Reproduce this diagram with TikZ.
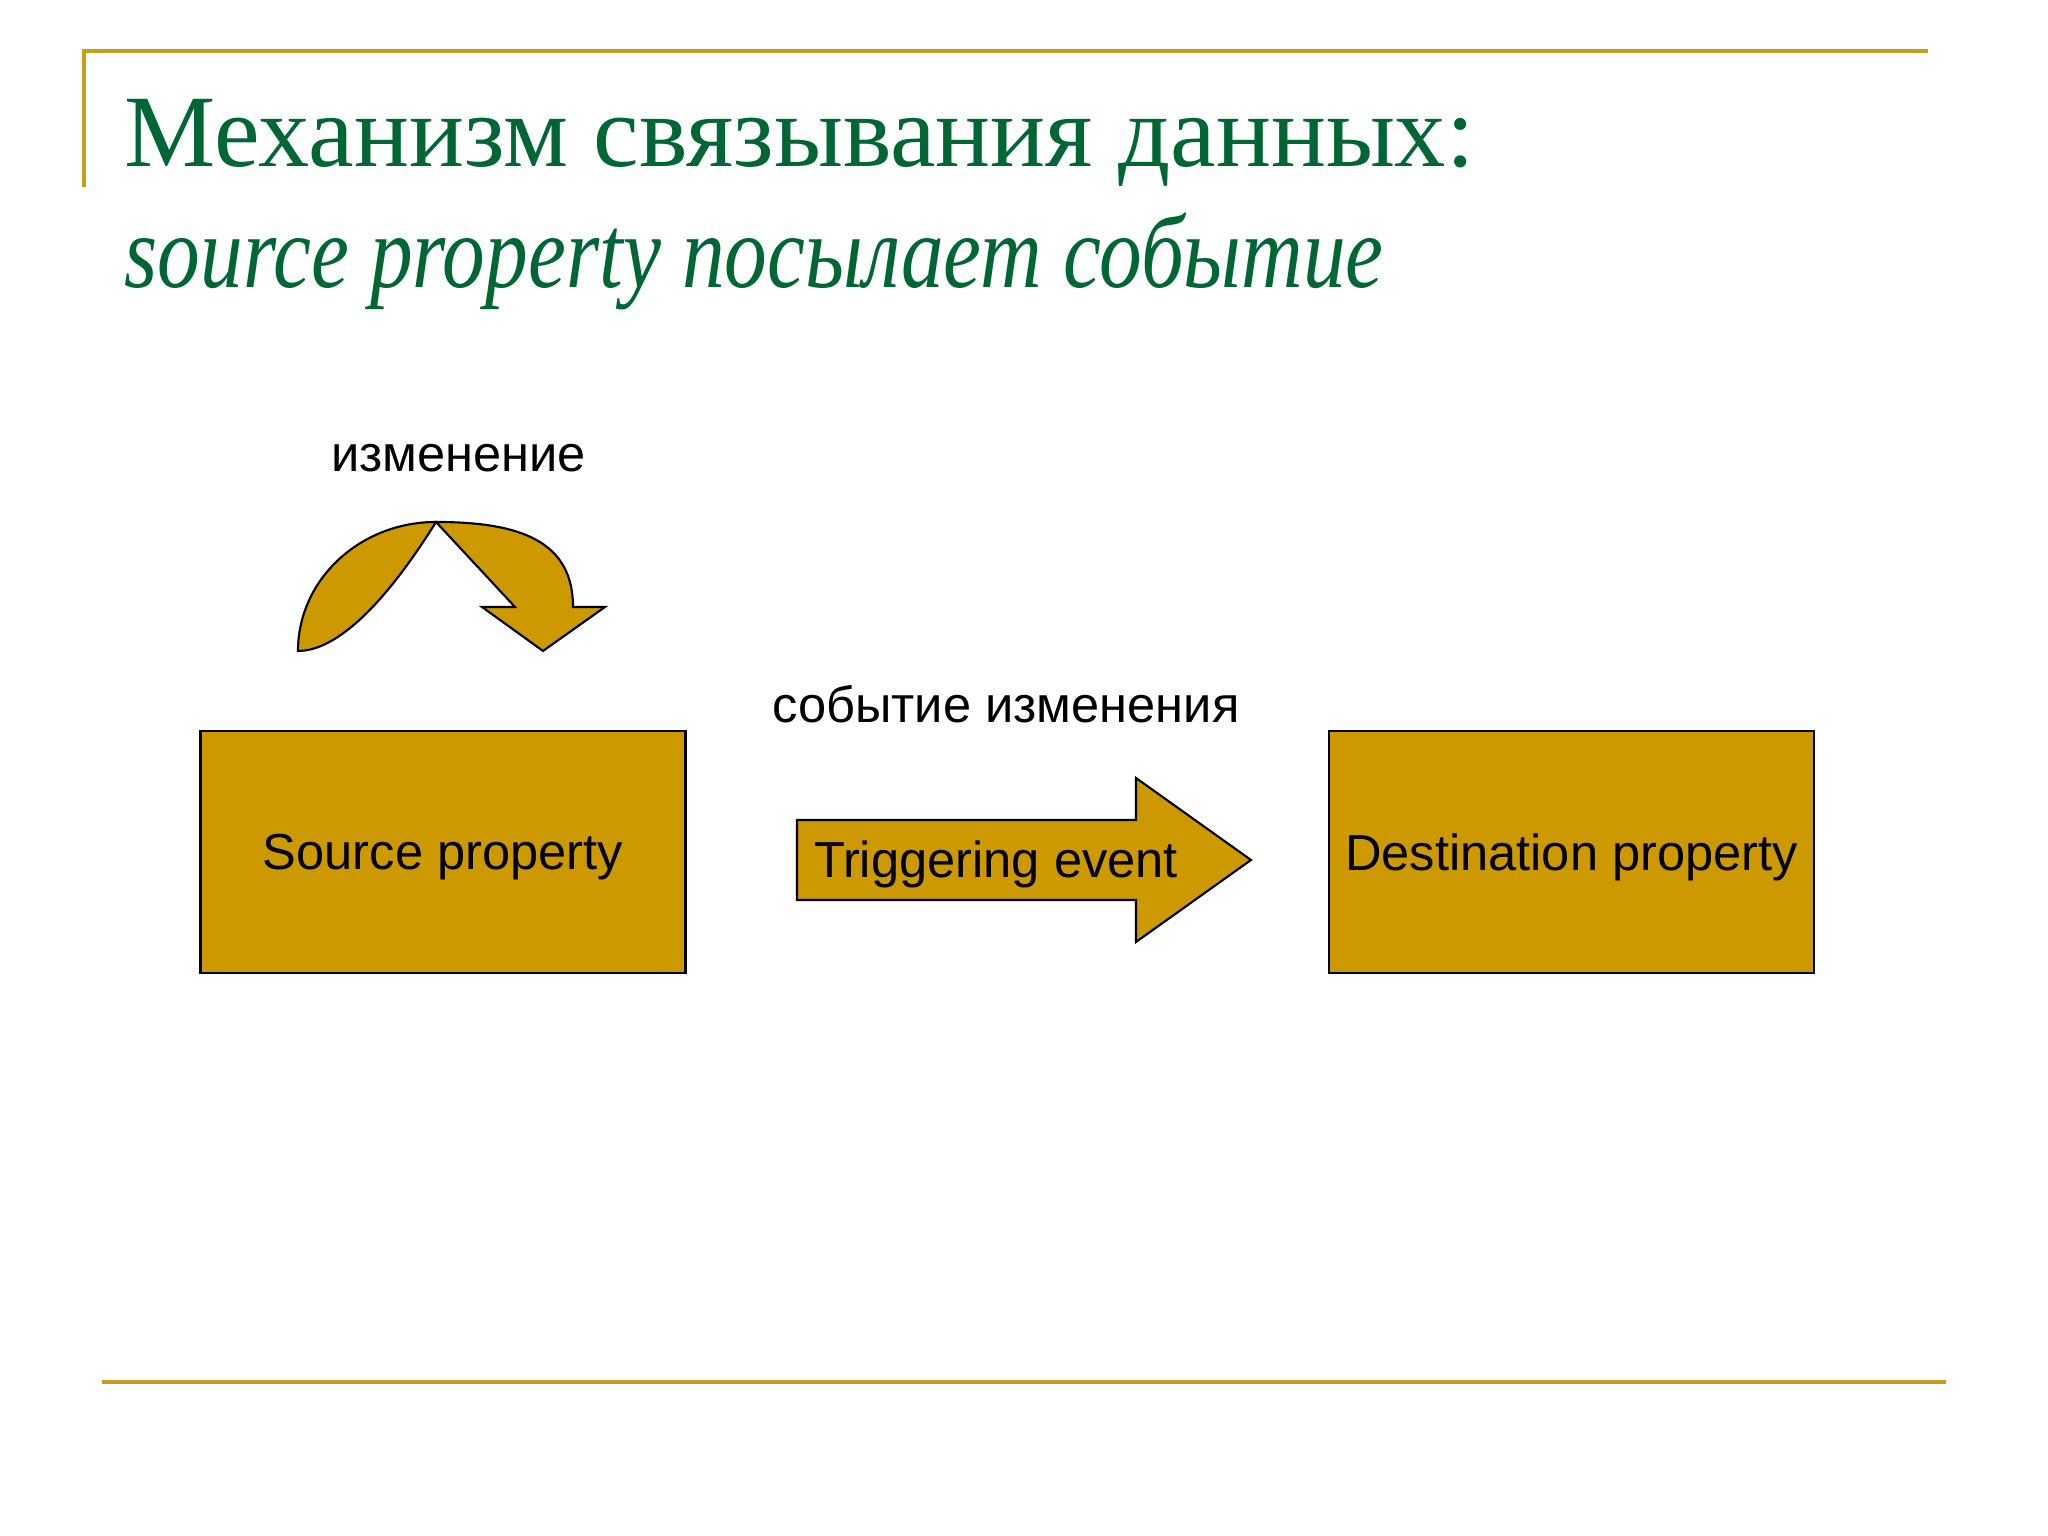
\documentclass[tikz,border=0pt]{standalone}
\usepackage{fontspec}
\setmainfont{Liberation Serif}
\setsansfont{Liberation Sans}
\newfontfamily\narrowserif[FakeStretch=0.82]{Liberation Serif}
\usepackage{xcolor}
\usetikzlibrary{positioning}
\definecolor{gold}{RGB}{204,153,0}
\definecolor{rulegold}{RGB}{201,156,26}
\definecolor{titlegreen}{RGB}{0,102,51}

\begin{document}
\begin{tikzpicture}
    \tikzstyle{prop} = [rectangle, draw=black, line width=0.7pt, fill=gold, minimum width=4.85cm, minimum height=2.42cm, text depth=0pt, font=\sffamily\fontsize{14.4}{17}\selectfont]
    \tikzstyle{lbl} = [font=\sffamily\fontsize{14.4}{17}\selectfont, inner sep=0pt, anchor=base]
    \tikzstyle{goldshape} = [draw=black, line width=0.6pt, fill=gold, line join=miter]
    \tikzstyle{heading} = [text=titlegreen, inner sep=0pt, anchor=base west]

    \useasboundingbox (0,0) rectangle (20.48,15.36);

    \draw[rulegold, line width=1.15pt] (0.84,13.49) |- (19.28,14.85);
    \draw[rulegold, line width=1.15pt] (1.02,1.54) -- (19.46,1.54);

    \node[heading, font=\fontsize{29.2}{34}\selectfont] (title) at (1.24,13.69) {Механизм связывания данных:};
    \node[heading, font=\narrowserif\itshape\fontsize{29.6}{34}\selectfont] (subtitle) at (1.24,12.48) {source property посылает событие};

    \node[prop] (source) at (4.43,6.84) {Source property};
    \node[prop] (dest) at (15.715,6.84) {Destination property};

    \draw[goldshape] (7.97,7.16) -- (11.36,7.16) -- (11.36,7.58) -- (12.51,6.76)
        -- (11.36,5.94) -- (11.36,6.36) -- (7.97,6.36) -- cycle;
    \node[lbl] (trig) at (9.96,6.58) {Triggering event};
    \node[lbl] (event) at (10.06,8.13) {событие изменения};

    \draw[goldshape] (2.98,8.85) arc[start angle=180, end angle=90, x radius=1.38, y radius=1.29]
        .. controls (5.2,10.14) and (5.73,9.95) .. (5.73,9.29) -- (6.05,9.29) -- (5.43,8.85)
        -- (4.82,9.29) -- (5.15,9.29) -- (4.36,10.14) .. controls (3.9,9.4) and (3.4,8.85) .. cycle;
    \node[lbl] (change) at (4.585,10.64) {изменение};
\end{tikzpicture}
\end{document}
